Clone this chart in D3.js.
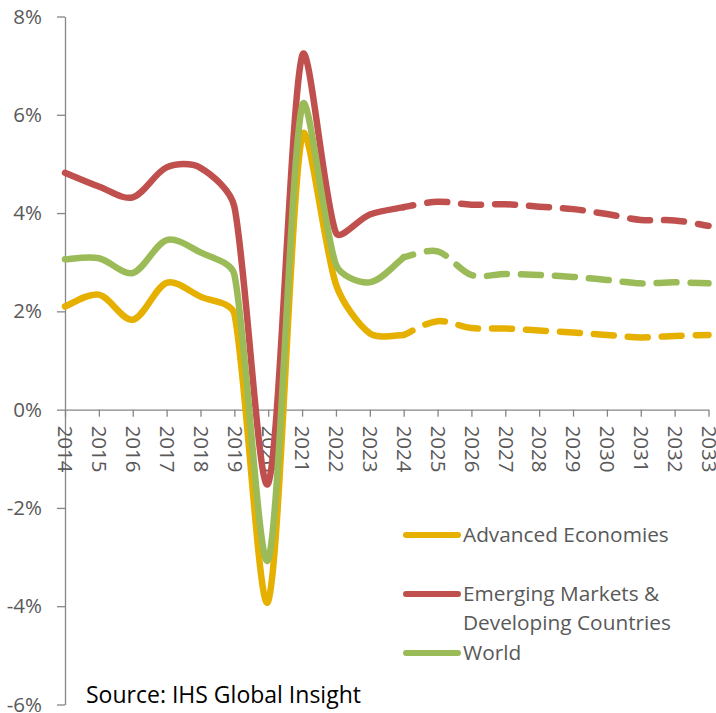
<!DOCTYPE html>
<meta charset="utf-8">
<script src="https://cdn.jsdelivr.net/npm/d3@7"></script>
<style>

body {
  margin: 0;
  background: #fff;
}

text {
  font-family: "Open Sans", sans-serif;
  fill: #595959;
}

.axis path,
.axis line {
  fill: none;
  stroke: #868686;
  stroke-width: 1.3px;
}

.series {
  fill: none;
  stroke-width: 6.5px;
  stroke-linecap: round;
  stroke-linejoin: round;
}

</style>
<body>
<script>

  // Years on the category axis and the growth rates (%) per series.
  var years = [2014, 2015, 2016, 2017, 2018, 2019, 2020, 2021, 2022, 2023,
               2024, 2025, 2026, 2027, 2028, 2029, 2030, 2031, 2032, 2033];

  var advanced = [2.10, 2.34, 1.83, 2.58, 2.30, 1.95, -3.90, 5.57, 2.55, 1.55,
                  1.52, 1.80, 1.66, 1.65, 1.61, 1.57, 1.52, 1.47, 1.50, 1.52];

  var emerging = [4.82, 4.54, 4.32, 4.93, 4.92, 4.13, -1.50, 7.20, 3.60, 3.97,
                  4.12, 4.23, 4.17, 4.18, 4.13, 4.08, 3.98, 3.86, 3.85, 3.74];

  var world = [3.06, 3.08, 2.78, 3.45, 3.20, 2.75, -3.05, 6.18, 2.95, 2.59,
               3.10, 3.22, 2.74, 2.76, 2.74, 2.70, 2.64, 2.57, 2.59, 2.57];

  var seriesNames = ["Advanced Economies", "Emerging Markets & Developing Countries", "World"];
  var seriesColors = ["#E6B000", "#C0504D", "#9BBB59"];
  var yTicks = [-6, -4, -2, 0, 2, 4, 6, 8];
  var forecastStart = 2024;

  var width = 716,
      height = 713;

  var svg = d3.select("body").append("svg")
    .attr("width", width)
    .attr("height", height);

  var x = d3.scaleLinear().domain([2014, 2033]).range([65, 708.5]);
  var y = d3.scaleLinear().domain([-6, 8]).range([704.5, 16.5]);

  //////////////////// Axes ////////////////////

  var yAxis = d3.axisLeft(y)
    .tickValues(yTicks)
    .tickSize(8)
    .tickSizeOuter(0)
    .tickPadding(15)
    .tickFormat(function(d) { return d + "%"; });

  svg.append("g")
    .attr("class", "y axis")
    .attr("transform", "translate(" + x(2014) + ",0)")
    .call(yAxis)
    .selectAll("text")
    .attr("font-size", "20.5px");

  var xAxis = d3.axisBottom(x)
    .tickValues(years)
    .tickSize(7)
    .tickSizeOuter(0)
    .tickFormat(function(d) { return d; });

  svg.append("g")
    .attr("class", "x axis")
    .attr("transform", "translate(0," + y(0) + ")")
    .call(xAxis)
    .selectAll("text")
    .attr("font-size", "20.5px")
    .attr("x", 0)
    .attr("y", 0)
    .attr("dy", "0.35em")
    .attr("text-anchor", "start")
    .attr("transform", "translate(0,16) rotate(90)");

  svg.selectAll(".axis .domain").attr("stroke", "#868686");

  //////////////////// Lines ////////////////////

  // Spreadsheet-style smoothing: Catmull-Rom bezier (1/6 tension), with the
  // control arm shortened when the segment is much shorter than its neighbour.
  function curveSheet(context) {
    var pts;
    function dist(a, b) { return Math.hypot(b[0] - a[0], b[1] - a[1]); }
    return {
      areaStart: function() {},
      areaEnd: function() {},
      lineStart: function() { pts = []; },
      point: function(px, py) { pts.push([+px, +py]); },
      lineEnd: function() {
        var n = pts.length, f = 1 / 6;
        if (!n) return;
        context.moveTo(pts[0][0], pts[0][1]);
        for (var i = 0; i < n - 1; i++) {
          var p0 = pts[i - 1] || pts[i],
              p1 = pts[i],
              p2 = pts[i + 1],
              p3 = pts[i + 2] || pts[i + 1];
          var d01 = dist(p0, p1), d12 = dist(p1, p2), d23 = dist(p2, p3);
          var fa = f * Math.min(1, 2 * d12 / (d01 + d12)),
              fb = f * Math.min(1, 2 * d12 / (d12 + d23));
          context.bezierCurveTo(
            p1[0] + (p2[0] - p0[0]) * fa, p1[1] + (p2[1] - p0[1]) * fa,
            p2[0] - (p3[0] - p1[0]) * fb, p2[1] - (p3[1] - p1[1]) * fb,
            p2[0], p2[1]);
        }
      }
    };
  }

  var line = d3.line()
    .x(function(d) { return x(d.year); })
    .y(function(d) { return y(d.value); })
    .curve(curveSheet);

  [advanced, emerging, world].forEach(function(values, i) {
    var pts = years.map(function(yr, j) { return {year: yr, value: values[j]}; });
    var actual = pts.filter(function(d) { return d.year <= forecastStart; });
    var forecast = pts.filter(function(d) { return d.year >= forecastStart; });

    svg.append("path")
      .datum(actual)
      .attr("class", "series")
      .attr("stroke", seriesColors[i])
      .attr("d", line);

    svg.append("path")
      .datum(forecast)
      .attr("class", "series")
      .attr("stroke", seriesColors[i])
      .attr("stroke-dasharray", "20 14")
      .attr("stroke-dashoffset", 10)
      .attr("d", line);
  });

  //////////////////// Legend ////////////////////

  var legendRows = [
    {lineY: 535, lines: ["Advanced Economies"], baseY: 542},
    {lineY: 594, lines: ["Emerging Markets &", "Developing Countries"], baseY: 601},
    {lineY: 653, lines: ["World"], baseY: 660}
  ];

  legendRows.forEach(function(row, i) {
    svg.append("line")
      .attr("x1", 406)
      .attr("x2", 458)
      .attr("y1", row.lineY)
      .attr("y2", row.lineY)
      .attr("stroke", seriesColors[i])
      .attr("stroke-width", 6)
      .attr("stroke-linecap", "round");

    row.lines.forEach(function(t, k) {
      svg.append("text")
        .text(t)
        .attr("x", 463)
        .attr("y", row.baseY + k * 28.5)
        .attr("font-size", "20.8px");
    });
  });

  svg.append("text")
    .text("Source: IHS Global Insight")
    .attr("x", 86)
    .attr("y", 703)
    .attr("font-size", "23px")
    .style("fill", "#000");

</script>
</body>
